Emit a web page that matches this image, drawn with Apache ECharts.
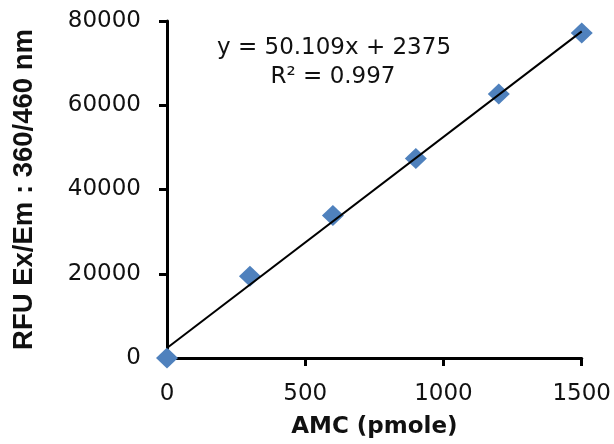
<!DOCTYPE html>
<html>
<head>
<meta charset="utf-8">
<script src="https://cdn.jsdelivr.net/npm/echarts@6/dist/echarts.min.js"></script>
<style>
html,body{margin:0;padding:0;background:#fff;}
#chart{width:614px;height:444px;}
</style>
</head>
<body>
<div id="chart"></div>
<script>
// Data
const amc = [0, 300, 600, 900, 1200, 1500];
const rfu = [0, 19400, 33850, 47350, 62700, 77150];
const trendX = [0, 1500];
const trendY = [2375, 77539];
const xTicks = [0, 500, 1000, 1500];
const yTicks = [0, 20000, 40000, 60000, 80000];
const equationLines = ['y = 50.109x + 2375', 'R² = 0.997'];
const xTitle = 'AMC (pmole)';
const yTitle = 'RFU Ex/Em : 360/460 nm';

const chart = echarts.init(document.getElementById('chart'), null, {renderer: 'canvas'});
const tickFont = {fontFamily: 'DejaVu Sans', fontSize: 23, color: '#111', formatter: v => String(v)};
const axisLine = {show: true, onZero: false, lineStyle: {color: '#000', width: 3}};
const axisTick = {show: true, inside: false, length: 8, lineStyle: {color: '#000', width: 3}};

chart.setOption({
  animation: false,
  backgroundColor: '#fff',
  grid: {left: 167, right: 32, top: 21, bottom: 85, containLabel: false},
  xAxis: {
    type: 'value', min: xTicks[0], max: xTicks[xTicks.length - 1], interval: xTicks[1] - xTicks[0],
    name: xTitle, nameLocation: 'middle', nameGap: 58,
    nameTextStyle: {fontFamily: 'DejaVu Sans', fontWeight: 'bold', fontSize: 23, color: '#111'},
    axisLine: axisLine, axisTick: axisTick,
    axisLabel: Object.assign({margin: 25}, tickFont),
    splitLine: {show: false}
  },
  yAxis: {
    type: 'value', min: yTicks[0], max: yTicks[yTicks.length - 1], interval: yTicks[1] - yTicks[0],
    name: yTitle, nameLocation: 'middle', nameGap: 129, nameRotate: 90,
    nameTextStyle: {fontFamily: 'Liberation Sans', fontWeight: 'bold', fontSize: 27.5, color: '#111'},
    axisLine: axisLine, axisTick: axisTick,
    axisLabel: Object.assign({margin: 26}, tickFont),
    splitLine: {show: false}
  },
  graphic: [
    {type: 'text', x: 334, y: 48, z: 10, style: {text: equationLines[0], align: 'center', textAlign: 'center', verticalAlign: 'middle', textVerticalAlign: 'middle', fill: '#111', font: '23px "DejaVu Sans"'}},
    {type: 'text', x: 333, y: 77, z: 10, style: {text: equationLines[1], align: 'center', textAlign: 'center', verticalAlign: 'middle', textVerticalAlign: 'middle', fill: '#111', font: '23px "DejaVu Sans"'}}
  ],
  series: [
    {
      type: 'scatter', name: 'AMC',
      data: amc.map((x, i) => [x, rfu[i]]),
      symbol: 'diamond', symbolSize: [22, 21],
      itemStyle: {color: '#4F81BD', opacity: 1},
      clip: false, z: 2
    },
    {
      type: 'line', name: 'Linear',
      data: trendX.map((x, i) => [x, trendY[i]]),
      showSymbol: false, symbol: 'none',
      lineStyle: {color: '#000', width: 2},
      clip: false, z: 5
    }
  ]
});
</script>
</body>
</html>
